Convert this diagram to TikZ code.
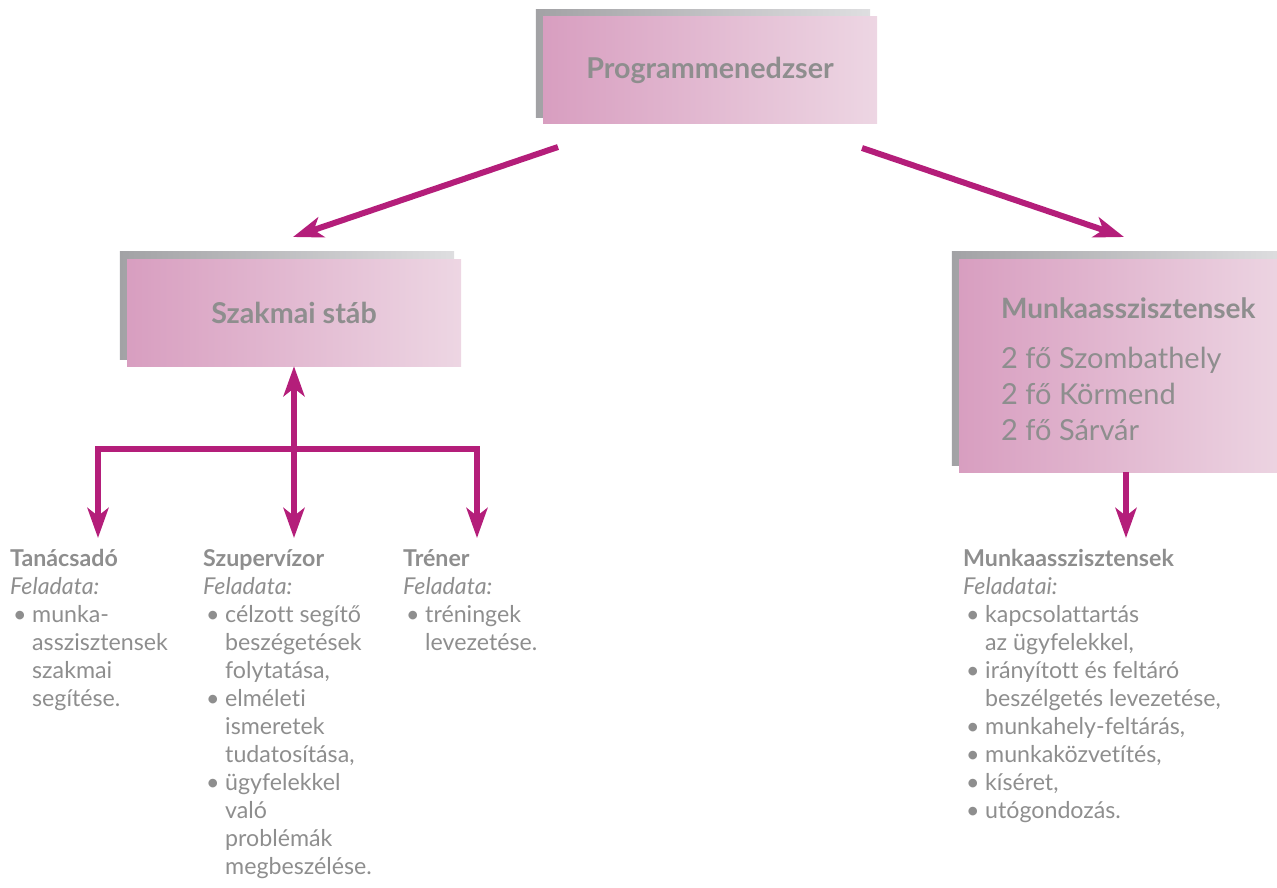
\documentclass[tikz,border=0pt]{standalone}
\usepackage{fontspec}
\setmainfont{Lato}[Ligatures={NoCommon}]
\usetikzlibrary{arrows.meta}
\definecolor{pinkL}{RGB}{216,158,192}
\definecolor{pinkR}{RGB}{237,214,227}
\definecolor{grayL}{RGB}{162,162,165}
\definecolor{grayR}{RGB}{222,222,224}
\definecolor{txt}{RGB}{142,142,142}
\definecolor{mag}{RGB}{180,30,122}
\newcommand\bul{\makebox[22pt][l]{\hspace{3pt}\textbullet}}
\newcommand\ind{\hspace*{22pt}}
\begin{document}
\begin{tikzpicture}[x=1pt,y=-1pt,
  box/.style={rectangle, minimum width=334pt, minimum height=107pt, left color=pinkL, right color=pinkR, inner sep=0pt, text=txt, font=\fontsize{28.7}{32}\selectfont\bfseries},
  shadowbox/.style={left color=grayL, right color=grayR},
  conn/.style={draw=mag, line width=6pt, line join=miter, -{Stealth[length=30pt,width=21pt,inset=8pt]}},
  col/.style={inner sep=0pt, text=txt, font=\fontsize{23.2}{28}\selectfont},
  boxtxt/.style={inner sep=0pt, text=txt, font=\fontsize{29}{36}\selectfont}
]
\useasboundingbox (0,0) rectangle (1277,888);
\clip (0,0) rectangle (1277,888);
% boxes
\path (710,70.5) node[box, opacity=0] (pm0) {};
\shade[shadowbox] ([xshift=-7pt,yshift=7pt]pm0.north west) rectangle ([xshift=-7pt,yshift=7pt]pm0.south east);
\node[box] (pm) at (710,70.5) {Programmenedzser};

\path (294,312.5) node[box, opacity=0] (sz0) {};
\shade[shadowbox] ([xshift=-7pt,yshift=7pt]sz0.north west) rectangle ([xshift=-7pt,yshift=7pt]sz0.south east);
\node[box] (sz) at (294,312.5) {Szakmai stáb};

\path (1126,365.5) node[box, minimum height=213pt, opacity=0] (mu0) {};
\shade[shadowbox] ([xshift=-7pt,yshift=7pt]mu0.north west) rectangle ([xshift=-7pt,yshift=7pt]mu0.south east);
\node[box, minimum height=213pt] (mu) at (1126,365.5) {};
\node[boxtxt, anchor=base west, font=\fontsize{28}{36}\selectfont\bfseries] (mutitle) at (1001,318) {Munkaasszisztensek};
\node[boxtxt, anchor=base west] (mulines) at (1001,368) {\begin{tabular}[t]{@{}l@{}}2 fő Szombathely\\2 fő Körmend\\2 fő Sárvár\end{tabular}};

% connectors
\coordinate (a1s) at (558,147);
\coordinate (a1e) at (293,237);
\coordinate (a2s) at (862,148);
\coordinate (a2e) at (1124,237);
\draw[conn] (a1s) -- (a1e);
\draw[conn] (a2s) -- (a2e);

\coordinate (barL) at (98,449);
\coordinate (barM) at (294,449);
\coordinate (barR) at (477,449);
\coordinate (t1) at (98,538);
\coordinate (t2) at (294,538);
\coordinate (t3) at (477,538);
\draw[conn, {Stealth[length=30pt,width=21pt,inset=8pt]}-{Stealth[length=30pt,width=21pt,inset=8pt]}] (t1) -- (barL) -- (barR) -- (t3);
\draw[conn] (barM) -- (t2);
\draw[conn] (barM) -- (sz.south);

\coordinate (t4) at (1126,538);
\draw[conn] (mu.south) -- (t4);

% text columns
\node[col, anchor=base west] (tan) at (10,566) {\begin{tabular}[t]{@{}l@{}}\textbf{Tanácsadó}\\ \textit{Feladata:}\\ \bul munka-\\ \ind asszisztensek\\ \ind szakmai\\ \ind segítése.\end{tabular}};
\node[col, anchor=base west] (szu) at (203,566) {\begin{tabular}[t]{@{}l@{}}\textbf{Szupervízor}\\ \textit{Feladata:}\\ \bul célzott segítő\\ \ind beszégetések\\ \ind folytatása,\\ \bul elméleti\\ \ind ismeretek\\ \ind tudatosítása,\\ \bul ügyfelekkel\\ \ind való\\ \ind problémák\\ \ind megbeszélése.\end{tabular}};
\node[col, anchor=base west] (tre) at (403,566) {\begin{tabular}[t]{@{}l@{}}\textbf{Tréner}\\ \textit{Feladata:}\\ \bul tréningek\\ \ind levezetése.\end{tabular}};
\node[col, anchor=base west] (mua) at (963,566) {\begin{tabular}[t]{@{}l@{}}\textbf{Munkaasszisztensek}\\ \textit{Feladatai:}\\ \bul kapcsolattartás\\ \ind az ügyfelekkel,\\ \bul irányított és feltáró\\ \ind beszélgetés levezetése,\\ \bul munkahely-feltárás,\\ \bul munkaközvetítés,\\ \bul kíséret,\\ \bul utógondozás.\end{tabular}};
\end{tikzpicture}
\end{document}
